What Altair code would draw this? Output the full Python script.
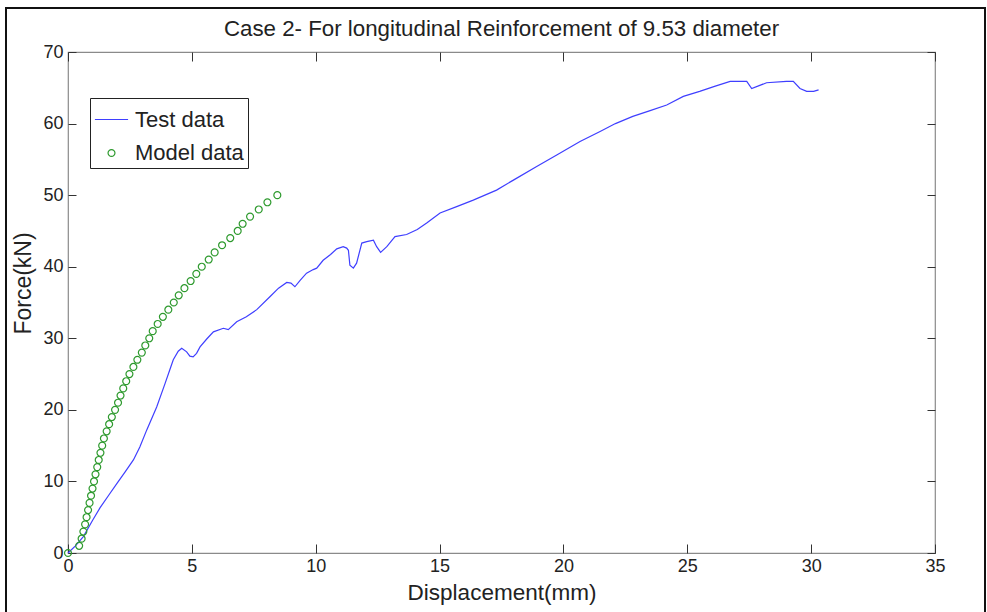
import altair as alt
import pandas as pd

# Measured load-displacement curve (test)
test_disp = [0.0, 0.3, 0.62, 1.0, 1.29, 1.65, 1.97, 2.3, 2.64, 2.9, 3.18, 3.58, 3.92, 4.1,
             4.25, 4.45, 4.59, 4.79, 4.92, 5.05, 5.19, 5.33, 5.6, 5.87, 6.27, 6.47, 6.81,
             7.2, 7.62, 8.15, 8.5, 8.83, 9.0, 9.16, 9.37, 9.63, 9.9, 10.04, 10.3, 10.6,
             10.85, 11.11, 11.25, 11.32, 11.38, 11.52, 11.65, 11.86, 12.06, 12.33, 12.46,
             12.62, 12.87, 13.2, 13.67, 14.1, 14.48, 15.02, 15.69, 16.36, 17.3, 17.98,
             18.92, 19.73, 20.67, 21.48, 22.1, 22.8, 23.5, 24.17, 24.84, 25.5, 26.1,
             26.73, 27.1, 27.4, 27.6, 27.9, 28.2, 29.0, 29.28, 29.55, 29.82, 30.1, 30.3]
test_force = [0.0, 1.0, 2.3, 4.6, 6.3, 8.1, 9.7, 11.3, 13.0, 14.8, 17.2, 20.4, 23.7, 25.5,
              27.0, 28.2, 28.6, 28.1, 27.5, 27.4, 27.9, 28.8, 29.9, 30.9, 31.4, 31.2, 32.3,
              33.0, 34.0, 35.8, 37.0, 37.8, 37.7, 37.2, 38.1, 39.1, 39.6, 39.8, 40.9, 41.7,
              42.5, 42.8, 42.6, 42.3, 40.2, 39.8, 40.5, 43.3, 43.5, 43.7, 42.8,
              42.0, 42.8, 44.2, 44.5, 45.2, 46.1, 47.5, 48.4, 49.3, 50.7, 52.1,
              54.0, 55.6, 57.5, 58.9, 60.0, 61.0, 61.8, 62.6, 63.8, 64.5, 65.2,
              65.9, 65.9, 65.9, 64.9, 65.3, 65.7, 65.9, 65.9, 64.9, 64.5, 64.5, 64.7]

# Model prediction
model_disp = [0.0, 0.45, 0.55, 0.62, 0.69, 0.75, 0.81, 0.87, 0.93, 0.99, 1.05, 1.11, 1.18,
              1.24, 1.31, 1.38, 1.45, 1.56, 1.66, 1.77, 1.90, 2.02, 2.12, 2.23, 2.35, 2.48,
              2.64, 2.80, 2.98, 3.12, 3.28, 3.42, 3.62, 3.83, 4.05, 4.27, 4.47, 4.70, 4.95,
              5.18, 5.40, 5.68, 5.92, 6.22, 6.55, 6.85, 7.05, 7.35, 7.70, 8.05, 8.45]
model_force = [0, 1, 2, 3, 4, 5, 6, 7, 8, 9, 10, 11, 12, 13, 14, 15, 16, 17, 18, 19, 20,
               21, 22, 23, 24, 25, 26, 27, 28, 29, 30, 31, 32, 33, 34, 35, 36, 37, 38, 39,
               40, 41, 42, 43, 44, 45, 46, 47, 48, 49, 50]

series_names = ["Test data", "Model data"]
series_colors = ["#3f3fff", "#2e9a2e"]
x_ticks = [0, 5, 10, 15, 20, 25, 30, 35]
y_ticks = [0, 10, 20, 30, 40, 50, 60, 70]

W, H = 867, 501
FONT = "Liberation Sans, Arial, sans-serif"
GRAY = "#8a8a8a"

test = pd.DataFrame({"disp": test_disp, "force": test_force, "series": "Test data"})
model = pd.DataFrame({"disp": model_disp, "force": model_force, "series": "Model data"})

xs = alt.Scale(domain=[0, 35], nice=False, zero=False)
ys = alt.Scale(domain=[0, 70], nice=False, zero=False)

color = alt.Color("series:N", scale=alt.Scale(domain=series_names, range=series_colors),
                  legend=alt.Legend(title=""))
shape = alt.Shape("series:N", scale=alt.Scale(domain=series_names, range=["stroke", "circle"]),
                  legend=alt.Legend(title=""))
size = alt.Size("series:N", scale=alt.Scale(domain=series_names, range=[1100, 48]),
                legend=alt.Legend(title=""))

# labelled axes (left / bottom), no outward ticks
ax_x = alt.Axis(values=x_ticks, tickSize=0, labelPadding=4, labelFontSize=18,
                labelFlush=False, title="Displacement(mm)", titleFontSize=22.5,
                titlePadding=6, grid=False, domain=False)
ax_y = alt.Axis(values=y_ticks, tickSize=0, labelPadding=5, labelFontSize=18,
                labelFlush=False, title="Force(kN)", titleFontSize=23, titlePadding=7,
                grid=False, domain=False, titleY=231)

# inward ticks along bottom and left edges
ax_x_in_bottom = alt.Axis(orient="top", offset=-H, values=x_ticks, labels=False,
                          tickSize=9, domain=False, grid=False, title="")
ax_y_in_left = alt.Axis(orient="right", offset=-W, values=y_ticks, labels=False,
                        tickSize=8, domain=False, grid=False, title="")
# inward ticks along top and right edges
ax_x_in_top = alt.Axis(orient="bottom", offset=-H, values=x_ticks, labels=False,
                       tickSize=9, domain=False, grid=False, title="")
ax_y_in_right = alt.Axis(orient="left", offset=-W, values=y_ticks, labels=False,
                         tickSize=8, domain=False, grid=False, title="")

frame = alt.Chart(pd.DataFrame({"k": [0]})).mark_rect(
    fillOpacity=0, stroke="#111", strokeWidth=2
).encode(x=alt.value(-62), x2=alt.value(917), y=alt.value(-44), y2=alt.value(570))

line = alt.Chart(test).mark_line(strokeWidth=1.2).encode(
    x=alt.X("disp:Q", scale=xs, axis=ax_x),
    y=alt.Y("force:Q", scale=ys, axis=ax_y),
    color=color,
)

points = alt.Chart(model).mark_point(filled=False, strokeWidth=1.2, opacity=1).encode(
    x=alt.X("disp:Q", scale=xs, axis=ax_x_in_bottom),
    y=alt.Y("force:Q", scale=ys, axis=ax_y_in_left),
    color=color, shape=shape, size=size,
)

edge_ticks = alt.Chart(test).mark_line(strokeOpacity=0).encode(
    x=alt.X("disp:Q", scale=xs, axis=ax_x_in_top),
    y=alt.Y("force:Q", scale=ys, axis=ax_y_in_right),
)

chart = alt.layer(line, points, edge_ticks, frame).resolve_axis(
    x="independent", y="independent"
).properties(
    width=W, height=H,
    autosize=alt.AutoSizeParams(type="none"),
    padding={"left": 68, "top": 52, "right": 52, "bottom": 59},
    title=alt.Title("Case 2- For longitudinal Reinforcement of 9.53 diameter",
                    fontSize=22.3, font=FONT, fontWeight="normal", color="#222",
                    anchor="middle", frame="group", offset=0, baseline="alphabetic",
                    dy=51),
).configure(
    font=FONT,
).configure_view(
    stroke=GRAY, strokeWidth=1.2,
).configure_axis(
    labelFont=FONT, titleFont=FONT, labelColor="#222", titleColor="#222",
    titleFontWeight="normal", tickColor="#333", tickWidth=1,
).configure_legend(
    orient="none", legendX=22, legendY=46, strokeColor="#222", fillColor="white",
    padding=4, labelFont=FONT, labelFontSize=22, labelColor="#222",
    symbolStrokeWidth=1.2, labelOffset=6, rowPadding=11, symbolType="circle",
)

chart.save("out.html", embed_options={"renderer": "svg", "actions": False})
